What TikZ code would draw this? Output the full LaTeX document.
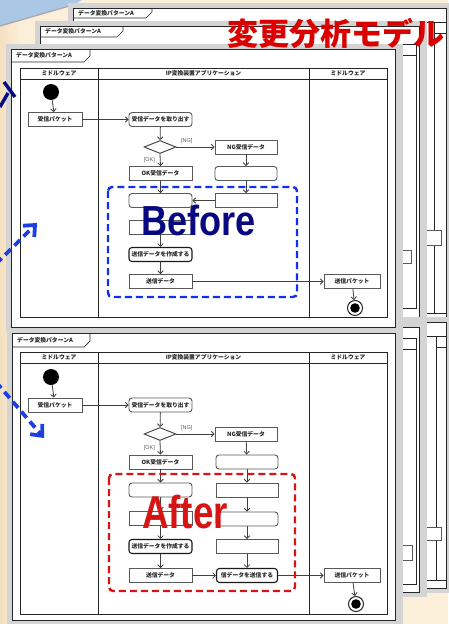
\documentclass[tikz,border=0pt]{standalone}
\usepackage{fontspec}
\setmainfont{Liberation Sans}
\newfontfamily\jp{Noto Sans CJK JP}
\usetikzlibrary{arrows.meta,shapes.geometric}
\definecolor{bgbeige}{RGB}{251,239,218}
\definecolor{bgbeigeL}{RGB}{244,224,190}
\definecolor{bgblue}{RGB}{170,199,230}
\definecolor{navy}{RGB}{8,8,128}
\definecolor{dblue}{RGB}{16,48,240}
\definecolor{dred}{RGB}{214,20,20}
\definecolor{ttlred}{RGB}{218,0,0}
\definecolor{arrblue}{RGB}{28,62,226}
\definecolor{bandgray}{RGB}{212,212,212}
\newcommand{\jpsmall}{\jp\bfseries\fontsize{5.8}{6.5}\selectfont}
% x0 y0 x1 y1 tabright tabheight name
\newcommand{\drawframe}[7]{%
  \fill[bandgray] ({#1-5},{#2-5}) rectangle ({#3+8},{#4+5});
  \draw[frm] (#1,#2) rectangle (#3,#4);
  \draw[tabline] (#1,{#2+#6}) -- ({#5-6},{#2+#6}) -- (#5,{#2+#6-6}) -- (#5,#2);
  \node[tabtext] (#7) at ({#1+5},{#2+#6/2}) {データ変換パターンA};
}
% ytop ybottom prefix
\newcommand{\swimlane}[3]{%
  \draw[lane] (20,#1) rectangle (387,#2);
  \draw[lane] (20,{#1+11}) -- (387,{#1+11});
  \draw[lane] (98,#1) -- (98,#2);
  \draw[lane] (309,#1) -- (309,#2);
  \node[hdr] (#3h1) at (59,{#1+5.5}) {ミドルウェア};
  \node[hdr] (#3h2) at (203.5,{#1+5.5}) {IP変換装置アプリケーション};
  \node[hdr] (#3h3) at (348,{#1+5.5}) {ミドルウェア};
}
\begin{document}
\begin{tikzpicture}[x=1pt,y=-1pt,
  frm/.style={draw=black!85, line width=0.9, fill=white},
  tabline/.style={draw=black!85, line width=0.7},
  lane/.style={draw=black!85, line width=0.9},
  tabtext/.style={font=\jpsmall, anchor=west, inner sep=0, text=black!85},
  hdr/.style={font=\jpsmall, inner sep=0, text=black!85},
  box/.style={draw=black!65, fill=white, line width=0.9, minimum width=63, minimum height=14, inner sep=0, font=\jpsmall, text=black!85},
  rbox/.style={box, rounded corners=3},
  strong/.style={draw=black!90, line width=1.1},
  dia/.style={diamond, draw=black!75, fill=white, line width=0.9, minimum width=32, minimum height=13, inner sep=0, aspect=2.4},
  init/.style={circle, fill=black, minimum size=16, inner sep=0},
  fin/.style={circle, draw=black!85, fill=white, line width=1.0, minimum size=15, inner sep=0},
  arr/.style={draw=black!75, line width=0.8, -{Straight Barb[length=2.8,width=5.5]}},
  guard/.style={font=\fontsize{5.5}{6}\selectfont, text=black!65, inner sep=0},
  frag/.style={draw=black!65, fill=white, line width=0.9},
  bigarr/.style={draw=arrblue, line width=3.8, dash pattern=on 8 off 5, -{Straight Barb[length=9,width=16]}},
  bigtxt/.style={anchor=base west, inner sep=0, font=\bfseries}
]
\useasboundingbox (0,0) rectangle (448,624);
% background
\fill[bgbeige] (0,0) rectangle (448,624);
\shade[left color=bgbeigeL, right color=bgbeige] (0,0) rectangle (20,624);
\fill[bgblue] (0,0) -- (82,0) -- (73,5) -- (0,26) -- cycle;
\draw[black!35, line width=1.2] (0,26) -- (73,5);

% ---------- back frames, top stack ----------
\drawframe{73}{8}{446}{318}{152}{10}{tabA}
\draw[lane] (100,22) -- (446,22);
\draw[lane] (434,22) -- (434,313);
\draw[lane] (434,33) -- (446,33);
\draw[lane] (100,313) -- (446,313);
\draw[frag] (420,230) rectangle (441,245);

\drawframe{40}{26}{419}{320}{123}{11}{tabB}
\draw[lane] (49,44) rectangle (416,308);
\draw[lane] (49,55) -- (416,55);
\draw[frag] (390,250) rectangle (411,263);

% ---------- back frames, bottom stack ----------
\drawframe{73}{322}{446}{588}{152}{10}{tabA2}
\draw[lane] (100,336) -- (446,336);
\draw[lane] (436,336) -- (436,580);
\draw[lane] (436,347) -- (446,347);
\draw[lane] (100,580) -- (446,580);
\draw[frag] (420,527) rectangle (441,540);

\drawframe{40}{327}{419}{592}{123}{11}{tabB2}
\draw[lane] (49,338) rectangle (416,584);
\draw[lane] (49,349) -- (416,349);
\draw[frag] (390,545) rectangle (412,560);

% ---------- front frame: Before ----------
\drawframe{11}{49}{395}{327}{90}{13}{tabC}
\swimlane{68}{317}{b}

\node[init] (binit) at (51,92) {};
\node[box, minimum width=54] (bpkt) at (55,119.5) {受信パケット};
\node[rbox] (btake) at (160.5,119.5) {受信データを取り出す};
\node[dia] (bdia) at (160,147) {};
\node[box, minimum width=62] (bng) at (246,147) {NG受信データ};
\node[box] (bok) at (160.5,173.5) {OK受信データ};
\node[rbox, minimum width=62] (br1) at (246,173.5) {};
\node[box, minimum width=62] (br2) at (246,200.5) {};
\node[rbox] (bl1) at (160.5,200.5) {};
\node[box] (bl2) at (160.5,227.5) {};
\node[rbox, strong] (bl3) at (160.5,254.5) {送信データを作成する};
\node[box] (bl4) at (160.5,281.5) {送信データ};
\node[box, minimum width=56] (bspkt) at (352,281.5) {送信パケット};
\node[fin] (bfin) at (355,308) {};
\fill[black] (bfin.center) circle (4.8);

\draw[arr] (binit) -- (bpkt);
\draw[arr] (bpkt) -- (btake);
\draw[arr] (btake) -- (bdia);
\draw[arr] (bdia.east) -- (bng.west) node[guard, pos=0.27, above=3] (bnglbl) {[NG]};
\draw[arr] (bdia.south) -- (bok.north) node[guard, pos=0.5, left=5] (boklbl) {[OK]};
\draw[arr] (bng) -- (br1);
\draw[arr] (br1) -- (br2);
\draw[arr] (br2) -- (bl1);
\draw[arr] (bok) -- (bl1);
\draw[arr] (bl1) -- (bl2);
\draw[arr] (bl2) -- (bl3);
\draw[arr] (bl3) -- (bl4);
\draw[arr] (bl4) -- (bspkt);
\draw[arr] (bspkt) -- (bfin);

\draw[dblue, line width=2.4, dash pattern=on 7 off 4, rounded corners=4] (108,187) rectangle (297,297);
\node[bigtxt, text=navy, font=\fontsize{42}{42}\selectfont\bfseries, xscale=0.86] (beforetxt) at (141,235) {Before};

% ---------- front frame: After ----------
\drawframe{12}{333}{395}{620}{90}{14}{tabD}
\swimlane{352}{614}{a}

\node[init] (ainit) at (51,377) {};
\node[box, minimum width=54] (apkt) at (55,405) {受信パケット};
\node[rbox] (atake) at (160.5,405) {受信データを取り出す};
\node[dia] (adia) at (160,434) {};
\node[box, minimum width=62] (ang) at (246,434) {NG受信データ};
\node[box] (aok) at (160.5,462) {OK受信データ};
\node[rbox, minimum width=62] (ar1) at (247,462) {};
\node[rbox] (al1) at (160.5,490) {};
\node[box, minimum width=62] (ar2) at (247,490) {};
\node[box] (al2) at (160.5,518) {};
\node[rbox, minimum width=62] (ar3) at (247,519) {};
\node[rbox, strong] (al3) at (160.5,546.5) {送信データを作成する};
\node[box, minimum width=62] (ar4) at (247,546.5) {};
\node[box] (al4) at (160.5,575.5) {送信データ};
\node[rbox, strong, minimum width=61] (ar5) at (247,575.5) {信データを送信する};
\node[box, minimum width=56] (aspkt) at (352,575.5) {送信パケット};
\node[fin] (afin) at (356,604) {};
\fill[black] (afin.center) circle (4.8);

\draw[arr] (ainit) -- (apkt);
\draw[arr] (apkt) -- (atake);
\draw[arr] (atake) -- (adia);
\draw[arr] (adia.east) -- (ang.west) node[guard, pos=0.27, above=3] (anglbl) {[NG]};
\draw[arr] (adia.south) -- (aok.north) node[guard, pos=0.5, left=5] (aoklbl) {[OK]};
\draw[arr] (ang) -- (ar1);
\draw[arr] (ar1) -- (ar2);
\draw[arr] (ar2) -- (ar3);
\draw[arr] (ar3) -- (ar4);
\draw[arr] (ar4) -- (ar5);
\draw[arr] (aok) -- (al1);
\draw[arr] (al1) -- (al2);
\draw[arr] (al2) -- (al3);
\draw[arr] (al3) -- (al4);
\draw[arr] (al4) -- (ar5);
\draw[arr] (ar5) -- (aspkt);
\draw[arr] (aspkt) -- (afin);

\draw[dred, line width=2.4, dash pattern=on 7 off 4, rounded corners=4] (109,474) rectangle (295,591);
\node[bigtxt, text=dred, font=\fontsize{46}{46}\selectfont\bfseries, xscale=0.8] (aftertxt) at (142,528) {After};

% ---------- title ----------
\node[anchor=west, inner sep=0, font=\jp\bfseries\fontsize{31}{31}\selectfont, text=ttlred] (title) at (227,33) {変更分析モデル};

% ---------- left-side marks and arrows ----------
\draw[navy, line width=3.4] (4,82) -- (15,97);
\draw[navy, line width=3.4] (0,107) -- (8,93);
\coordinate (arrA0) at (-4,264);
\coordinate (arrA1) at (37,223);
\draw[bigarr] (arrA0) -- (arrA1);
\coordinate (arrB0) at (-4,382);
\coordinate (arrB1) at (44,438);
\draw[bigarr] (arrB0) -- (arrB1);
\end{tikzpicture}
\end{document}
